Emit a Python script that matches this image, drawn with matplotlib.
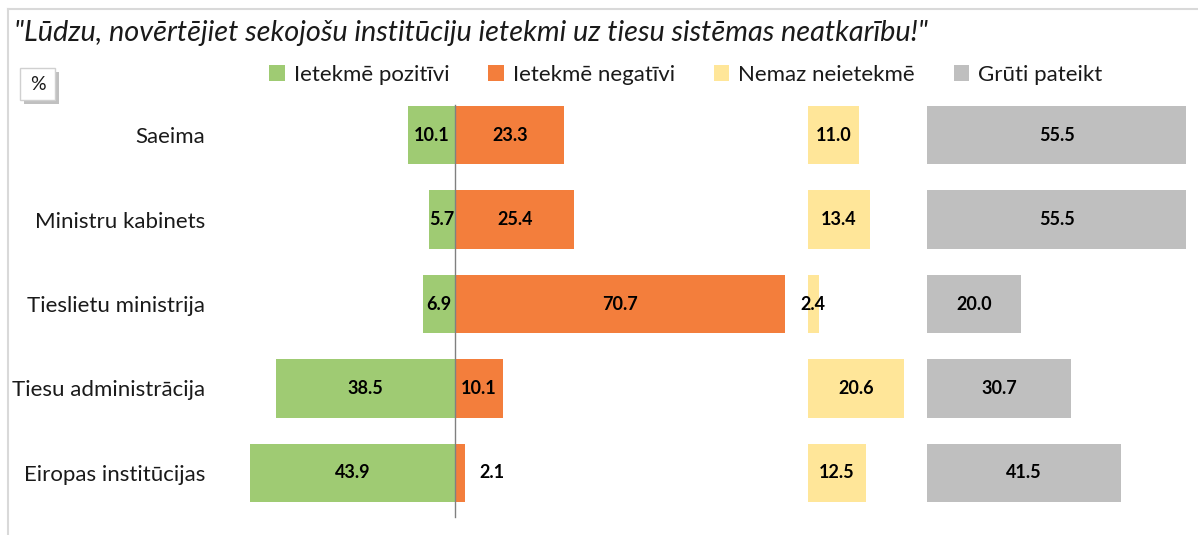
import matplotlib.pyplot as plt
import matplotlib.patches as patches
from matplotlib.lines import Line2D

# data
categories = ["Saeima", "Ministru kabinets", "Tieslietu ministrija",
              "Tiesu administrācija", "Eiropas institūcijas"]
positive = [10.1, 5.7, 6.9, 38.5, 43.9]
negative = [23.3, 25.4, 70.7, 10.1, 2.1]
no_effect = [11.0, 13.4, 2.4, 20.6, 12.5]
hard_to_say = [55.5, 55.5, 20.0, 30.7, 41.5]
series_names = ["Ietekmē pozitīvi", "Ietekmē negatīvi", "Nemaz neietekmē", "Grūti pateikt"]
title = '"Lūdzu, novērtējiet sekojošu institūciju ietekmi uz tiesu sistēmas neatkarību!"'

colors = ["#9FCB73", "#F37E3C", "#FFE699", "#BFBFBF"]
FONT = ["Lato", "DejaVu Sans"]
plt.rcParams['font.family'] = FONT

W, H = 1198, 535
fig = plt.figure(figsize=(W / 100, H / 100), dpi=100)

# frame (top and left edges visible)
fig.add_artist(Line2D([8 / W, 8 / W], [0, 1 - 9 / H], transform=fig.transFigure, color="#D9D9D9", lw=1.5))
fig.add_artist(Line2D([8 / W, 1], [1 - 9 / H, 1 - 9 / H], transform=fig.transFigure, color="#D9D9D9", lw=1.5))

ax = fig.add_axes([215 / W, 1 - 515 / H, (1190 - 215) / W, (515 - 93) / H])
ax.set_xlim(-51.5, 157.4)
ax.set_ylim(4.5, -0.5)

y = list(range(len(categories)))
bh = 0.69
yel_off = 75.5
gry_off = 101.1

ax.barh(y, [-v for v in positive], height=bh, color=colors[0])
ax.barh(y, negative, height=bh, color=colors[1])
ax.barh(y, no_effect, left=yel_off, height=bh, color=colors[2])
ax.barh(y, hard_to_say, left=gry_off, height=bh, color=colors[3])

lab = dict(ha="center", va="center", fontsize=13, fontweight="bold", color="black")
for i in y:
    ax.text(-positive[i] / 2, i, f"{positive[i]:.1f}", **lab)
    if negative[i] < 5:
        ax.text(negative[i] + 5.8, i, f"{negative[i]:.1f}", **lab)
    else:
        ax.text(negative[i] / 2, i, f"{negative[i]:.1f}", **lab)
    ax.text(yel_off + no_effect[i] / 2, i, f"{no_effect[i]:.1f}", **lab)
    ax.text(gry_off + hard_to_say[i] / 2, i, f"{hard_to_say[i]:.1f}", **lab)

ax.plot([0, 0], [-0.355, 4.52], color="#808080", lw=1, clip_on=False, zorder=3)

ax.set_yticks(y)
ax.set_yticklabels(categories, fontsize=16, color="#1a1a1a")
ax.tick_params(axis="y", length=0, pad=7)
ax.set_xticks([])
for s in ax.spines.values():
    s.set_visible(False)

fig.text(14 / W, 1 - 33 / H, title, fontsize=20.8, fontstyle="italic", va="center", ha="left", color="#1a1a1a")

# "%" box with shadow
fig.add_artist(patches.Rectangle((24 / W, 1 - 104 / H), 35 / W, 32 / H, transform=fig.transFigure,
                                 facecolor="#C0C0C0", edgecolor="none"))
fig.add_artist(patches.Rectangle((20 / W, 1 - 100 / H), 35 / W, 32 / H, transform=fig.transFigure,
                                 facecolor="white", edgecolor="#D0D0D0", lw=1))
fig.text(37.5 / W, 1 - 84 / H, "%", fontsize=14, ha="center", va="center", color="#1a1a1a")

handles = [patches.Patch(facecolor=c, edgecolor="none") for c in colors]
fig.legend(handles, series_names, loc="center", bbox_to_anchor=(686 / W, 1 - 75 / H), ncol=4,
           frameon=False, fontsize=16, handlelength=0.7, handleheight=0.7, handletextpad=0.4,
           columnspacing=1.75, labelcolor="#1a1a1a")

fig.savefig("out.png", dpi=100)
